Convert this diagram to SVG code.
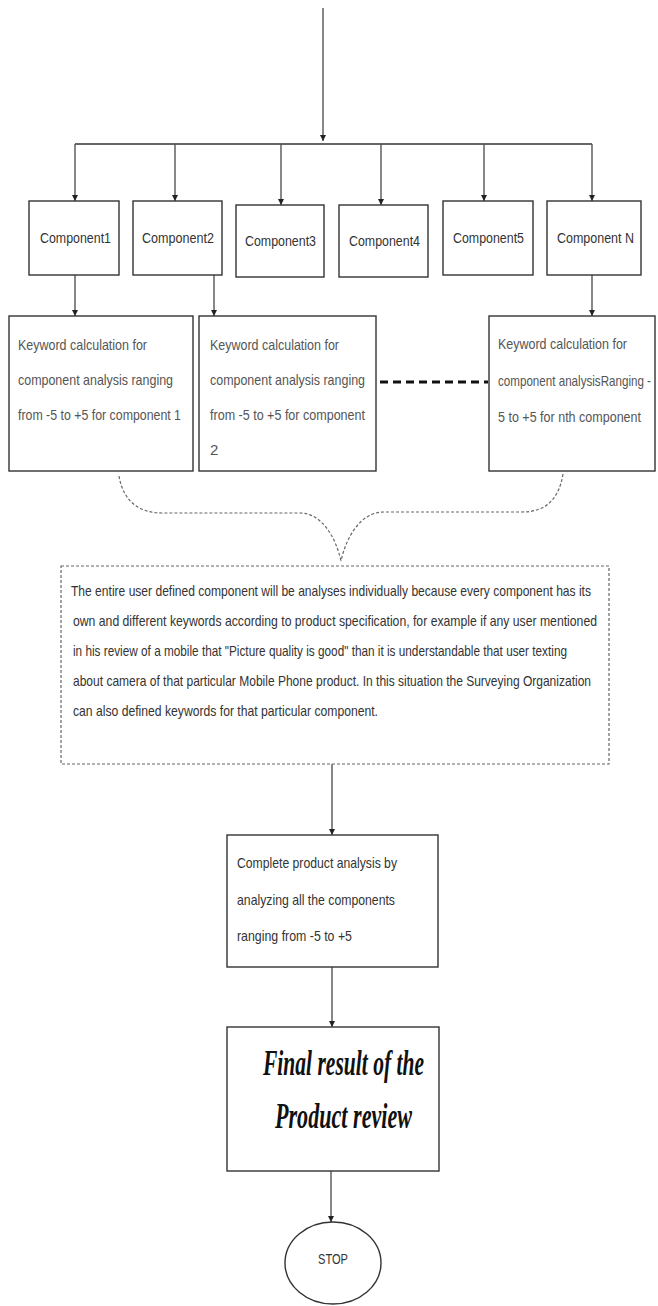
<svg xmlns="http://www.w3.org/2000/svg" width="658" height="1306" viewBox="0 0 658 1306">
<defs>
<style>
.box{fill:#fff;stroke:#333;stroke-width:1.4}
.lbl{font-family:"Liberation Sans",Arial,sans-serif;font-size:15px;fill:#333}
.kw{font-family:"Liberation Sans",Arial,sans-serif;font-size:15px;fill:#555}
.dt{font-family:"Liberation Sans",Arial,sans-serif;font-size:15px;fill:#333}
.fin{font-family:"Liberation Serif","Times New Roman",serif;font-size:35px;font-weight:bold;font-style:italic;fill:#111}
.ln{stroke:#555;stroke-width:1.4;fill:none}
.dash{stroke:#666;stroke-width:1.2;stroke-dasharray:3,2;fill:none}
</style>
<marker id="ah" viewBox="0 0 10 10" refX="10" refY="5" markerWidth="6" markerHeight="7" markerUnits="userSpaceOnUse" orient="auto">
<path d="M0,0 L10,5 L0,10 z" fill="#222"/>
</marker>
</defs>
<rect width="658" height="1306" fill="#fff"/>

<g id="connectors">
<line class="ln" x1="323" y1="8" x2="323" y2="141" marker-end="url(#ah)"/>
<line class="ln" x1="75" y1="144" x2="592" y2="144" style="stroke:#333"/>
<line class="ln" x1="75" y1="144" x2="75" y2="201" marker-end="url(#ah)"/>
<line class="ln" x1="175" y1="144" x2="175" y2="201" marker-end="url(#ah)"/>
<line class="ln" x1="281" y1="144" x2="281" y2="205" marker-end="url(#ah)"/>
<line class="ln" x1="381" y1="144" x2="381" y2="205" marker-end="url(#ah)"/>
<line class="ln" x1="484" y1="144" x2="484" y2="201" marker-end="url(#ah)"/>
<line class="ln" x1="592" y1="144" x2="592" y2="201" marker-end="url(#ah)"/>
<line class="ln" x1="75" y1="275" x2="75" y2="316" marker-end="url(#ah)"/>
<line class="ln" x1="214" y1="275" x2="214" y2="316" marker-end="url(#ah)"/>
<line class="ln" x1="592" y1="275" x2="592" y2="316" marker-end="url(#ah)"/>
<line x1="380" y1="382" x2="488" y2="382" stroke="#111" stroke-width="3" stroke-dasharray="8,5"/>
<path class="dash" d="M119,476 C123,500 138,513 162,513 L300,513 C322,513 336,538 341,561"/>
<path class="dash" d="M563,474 C559,499 546,512 522,512 L384,512 C360,512 346,538 341,561"/>
<line class="ln" x1="332" y1="764" x2="332" y2="835" marker-end="url(#ah)"/>
<line class="ln" x1="332" y1="967" x2="332" y2="1027" marker-end="url(#ah)"/>
<line class="ln" x1="331" y1="1171" x2="331" y2="1222" marker-end="url(#ah)"/>
</g>

<g id="c1"><rect class="box" x="29" y="201" width="90" height="74"/><text class="lbl" x="40" y="243" textLength="71" lengthAdjust="spacingAndGlyphs">Component1</text></g>
<g id="c2"><rect class="box" x="133" y="201" width="89" height="74"/><text class="lbl" x="142" y="243" textLength="72" lengthAdjust="spacingAndGlyphs">Component2</text></g>
<g id="c3"><rect class="box" x="236" y="205" width="88" height="72"/><text class="lbl" x="245" y="246" textLength="71" lengthAdjust="spacingAndGlyphs">Component3</text></g>
<g id="c4"><rect class="box" x="339" y="205" width="89" height="72"/><text class="lbl" x="349" y="246" textLength="71" lengthAdjust="spacingAndGlyphs">Component4</text></g>
<g id="c5"><rect class="box" x="443" y="201" width="90" height="74"/><text class="lbl" x="453" y="243" textLength="71" lengthAdjust="spacingAndGlyphs">Component5</text></g>
<g id="cN"><rect class="box" x="547" y="201" width="94" height="74"/><text class="lbl" x="557" y="243" textLength="77" lengthAdjust="spacingAndGlyphs">Component N</text></g>

<g id="k1"><rect class="box" x="9" y="316" width="184" height="155"/>
<text class="kw" x="18" y="350" textLength="129" lengthAdjust="spacingAndGlyphs">Keyword calculation for</text>
<text class="kw" x="18" y="385" textLength="155" lengthAdjust="spacingAndGlyphs">component analysis ranging</text>
<text class="kw" x="18" y="420" textLength="163" lengthAdjust="spacingAndGlyphs">from -5 to +5 for component 1</text>
</g>
<g id="k2"><rect class="box" x="199" y="316" width="177" height="155"/>
<text class="kw" x="210" y="350" textLength="129" lengthAdjust="spacingAndGlyphs">Keyword calculation for</text>
<text class="kw" x="210" y="385" textLength="155" lengthAdjust="spacingAndGlyphs">component analysis ranging</text>
<text class="kw" x="210" y="420" textLength="155" lengthAdjust="spacingAndGlyphs">from -5 to +5 for component</text>
<text class="kw" x="210" y="455">2</text>
</g>
<g id="kN"><rect class="box" x="489" y="316" width="166" height="155"/>
<text class="kw" x="498" y="349" textLength="129" lengthAdjust="spacingAndGlyphs">Keyword calculation for</text>
<text class="kw" x="498" y="386" textLength="153" lengthAdjust="spacingAndGlyphs">component analysisRanging -</text>
<text class="kw" x="498" y="422" textLength="143" lengthAdjust="spacingAndGlyphs">5 to +5 for nth component</text>
</g>

<g id="desc"><rect class="dash" x="61" y="566" width="548" height="198"/>
<text class="dt" x="71" y="596" textLength="520" lengthAdjust="spacingAndGlyphs">The entire user defined component will be analyses individually because every component has its</text>
<text class="dt" x="73" y="626" textLength="524" lengthAdjust="spacingAndGlyphs">own and different keywords according to product specification, for example if any user mentioned</text>
<text class="dt" x="73" y="656" textLength="494" lengthAdjust="spacingAndGlyphs">in his review of a mobile that "Picture quality is good" than it is understandable that user texting</text>
<text class="dt" x="73" y="686" textLength="518" lengthAdjust="spacingAndGlyphs">about camera of that particular Mobile Phone product. In this situation the Surveying Organization</text>
<text class="dt" x="73" y="716" textLength="305" lengthAdjust="spacingAndGlyphs">can also defined keywords for that particular component.</text>
</g>

<g id="complete"><rect class="box" x="227" y="835" width="211" height="132"/>
<text class="kw" x="237" y="868" textLength="160" lengthAdjust="spacingAndGlyphs" style="fill:#333">Complete product analysis by</text>
<text class="kw" x="237" y="905" textLength="158" lengthAdjust="spacingAndGlyphs" style="fill:#333">analyzing all the components</text>
<text class="kw" x="237" y="941" textLength="115" lengthAdjust="spacingAndGlyphs" style="fill:#333">ranging from -5 to +5</text>
</g>

<g id="final"><rect class="box" x="227" y="1027" width="212" height="144"/>
<text class="fin" x="263" y="1075" textLength="161" lengthAdjust="spacingAndGlyphs">Final result of the</text>
<text class="fin" x="275" y="1128" textLength="137" lengthAdjust="spacingAndGlyphs">Product review</text>
</g>

<g id="stop"><ellipse cx="333" cy="1263" rx="48" ry="41" fill="#fff" stroke="#333" stroke-width="1.4"/>
<text class="lbl" x="333" y="1264" text-anchor="middle" textLength="30" lengthAdjust="spacingAndGlyphs">STOP</text>
</g>
</svg>
